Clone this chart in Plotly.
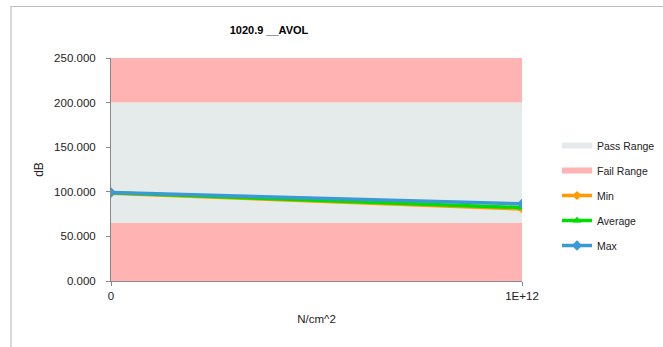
import plotly.graph_objects as go

x_vals = [0, 1e12]
x_ticktext = ["0", "1E+12"]
min_vals = [98.5, 80.8]
avg_vals = [98.8, 82.3]
max_vals = [99.3, 86.5]
fail_low = [65, 65]
pass_high = [200, 200]
fail_high = [250, 250]
y_ticks = [0, 50, 100, 150, 200, 250]

PASS_C = "#E5EBEB"
FAIL_C = "#FFB3B3"
FONT = "Liberation Sans"

fig = go.Figure()
fig.add_trace(go.Scatter(x=x_vals, y=fail_low, mode="none", fill="tozeroy",
                         fillcolor=FAIL_C, name="Fail Range", legendgroup="fail",
                         showlegend=False, hoverinfo="skip"))
fig.add_trace(go.Scatter(x=x_vals, y=pass_high, mode="none", fill="tonexty",
                         fillcolor=PASS_C, name="Pass Range", legendgroup="pass",
                         legendrank=1))
fig.add_trace(go.Scatter(x=x_vals, y=fail_high, mode="none", fill="tonexty",
                         fillcolor=FAIL_C, name="Fail Range", legendgroup="fail",
                         legendrank=2))
fig.add_trace(go.Scatter(x=x_vals, y=min_vals, mode="lines+markers", name="Min",
                         line=dict(color="#FF9A00", width=3.5),
                         marker=dict(symbol="diamond", size=7, color="#FF9A00"),
                         legendgroup="min", legendrank=3))
fig.add_trace(go.Scatter(x=x_vals, y=avg_vals, mode="lines+markers", name="Average",
                         line=dict(color="#00DD00", width=3.5),
                         marker=dict(symbol="triangle-up", size=8, color="#00DD00"),
                         legendgroup="avg", legendrank=4))
fig.add_trace(go.Scatter(x=x_vals, y=max_vals, mode="lines+markers", name="Max",
                         line=dict(color="#3A9AD4", width=3.5),
                         marker=dict(symbol="diamond", size=8, color="#3A9AD4"),
                         legendgroup="max", legendrank=5))

fig.update_layout(
    width=663, height=347,
    margin=dict(l=111, r=141, t=58, b=66),
    paper_bgcolor="white", plot_bgcolor="white",
    font=dict(family=FONT, size=11.5, color="#222222"),
    title=dict(text="<b>1020.9 __AVOL</b>", x=269 / 663, xanchor="center",
               y=1 - 30 / 347, yanchor="middle", font=dict(size=11, color="black")),
    xaxis=dict(range=[0, 1e12], tickvals=x_vals, ticktext=x_ticktext,
               showgrid=False, zeroline=False, showline=True, linecolor="#888888",
               ticks="outside", ticklen=4, tickcolor="#888888",
               title=dict(text="N/cm^2", font=dict(size=11.5), standoff=14)),
    yaxis=dict(range=[0, 250], tickvals=y_ticks,
               ticktext=[f"{v:.3f}" for v in y_ticks],
               showgrid=False, zeroline=False, showline=True, linecolor="#888888",
               ticks="outside", ticklen=4, tickcolor="#888888", ticklabelstandoff=8,
               title=dict(text="dB", font=dict(size=12), standoff=7)),
    legend=dict(xref="container", yref="container",
                x=557 / 663, y=1 - 131 / 347, xanchor="left", yanchor="top",
                traceorder="grouped", tracegroupgap=6, font=dict(size=10.5),
                bgcolor="rgba(0,0,0,0)", itemwidth=30),
    showlegend=True,
)

fig.add_shape(type="rect", xref="paper", yref="paper",
              x0=(11 - 111) / 411, x1=(668 - 111) / 411,
              y0=(281 - 352) / 223, y1=(281 - 6.5) / 223,
              line=dict(color="#BFBFBF", width=1.2), fillcolor="rgba(0,0,0,0)", layer="below")

fig.write_html("out.html", config={"displayModeBar": False},
               post_script="document.body.style.margin='0';")
